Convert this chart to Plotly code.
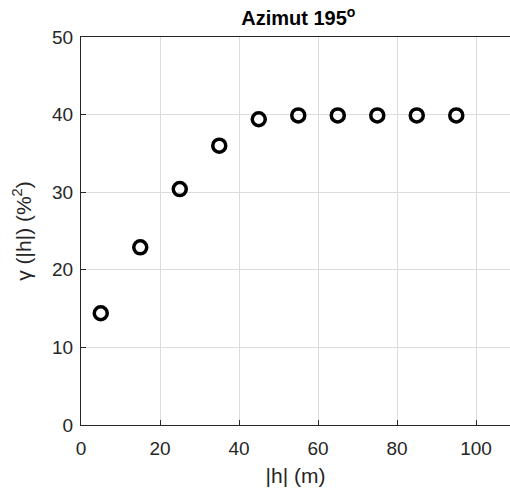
import plotly.graph_objects as go

lag_m = [5, 15, 25, 35, 45, 55, 65, 75, 85, 95]
gamma = [14.4, 22.9, 30.4, 36.0, 39.4, 39.9, 39.9, 39.9, 39.9, 39.9]
x_ticks = [0, 20, 40, 60, 80, 100]
y_ticks = [0, 10, 20, 30, 40, 50]

fig = go.Figure()
fig.add_trace(go.Scatter(
    x=lag_m, y=gamma, mode="markers",
    marker=dict(symbol="circle-open", size=13, color="black", line=dict(width=3.5, color="black")),
    showlegend=False, cliponaxis=False, hoverinfo="skip",
))

font_family = "Liberation Sans, Arial, sans-serif"
axis_common = dict(
    showline=True, linecolor="#262626", linewidth=1,
    ticks="inside", ticklen=5, tickcolor="#262626",
    showgrid=True, gridcolor="#dcdcdc", gridwidth=1,
    zeroline=False, automargin=False,
    tickfont=dict(family=font_family, size=19, color="#262626"),
)
fig.update_layout(
    width=510, height=499,
    margin=dict(l=81, r=0, t=37, b=74, autoexpand=False),
    paper_bgcolor="white", plot_bgcolor="white",
    title=dict(text="<b>Azimut 195<sup>o</sup></b>", x=0.585, xanchor="center",
               y=1 - 18 / 499, yanchor="middle", yref="container",
               font=dict(family=font_family, size=20, color="black")),
    xaxis=dict(range=[0, 108.6], tickvals=x_ticks, mirror=True, ticklabelstandoff=6,
               title=dict(text="|h| (m)", font=dict(family=font_family, size=21, color="#262626"), standoff=10),
               **axis_common),
    yaxis=dict(range=[0, 50], tickvals=y_ticks, ticklabelstandoff=3,
               title=dict(text="γ (|h|) (%<sup>2</sup>)", font=dict(family=font_family, size=21, color="#262626"), standoff=14),
               **axis_common),
)
fig.write_html("out.html", config={"displayModeBar": False},
               post_script="document.body.style.margin='0px';document.body.style.overflow='hidden';")
